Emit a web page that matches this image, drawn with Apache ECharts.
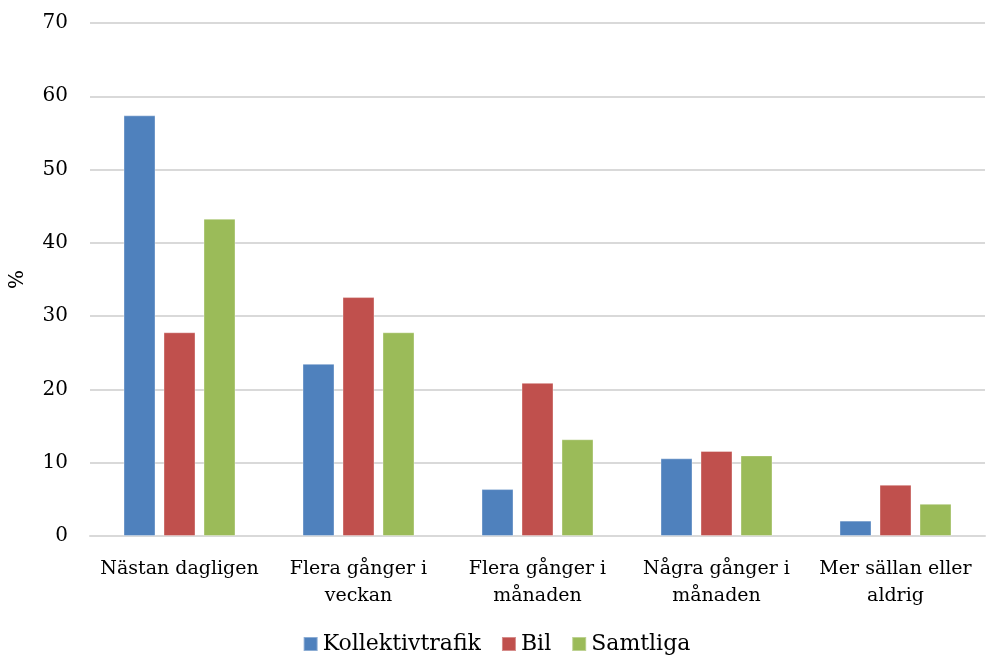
<!DOCTYPE html>
<html>
<head>
<meta charset="utf-8">
<script src="https://cdn.jsdelivr.net/npm/echarts@6/dist/echarts.min.js"></script>
<style>
  html, body { margin: 0; padding: 0; background: #fff; }
  #chart { width: 993px; height: 657px; }
</style>
</head>
<body>
<div id="chart"></div>
<script>
  var categories = ['Nästan dagligen', 'Flera gånger i\nveckan', 'Flera gånger i\nmånaden', 'Några gånger i\nmånaden', 'Mer sällan eller\naldrig'];
  var kollektivtrafik = [57.4, 23.5, 6.4, 10.6, 2.1];
  var bil = [27.8, 32.6, 20.9, 11.6, 7.0];
  var samtliga = [43.3, 27.8, 13.2, 11.0, 4.4];
  var seriesNames = ['Kollektivtrafik', 'Bil', 'Samtliga'];
  var colors = ['#4f81bd', '#c0504d', '#9bbb59'];

  var font = 'DejaVu Serif';
  var chart = echarts.init(document.getElementById('chart'));

  function bar(name, data, color) {
    return {
      name: name,
      type: 'bar',
      data: data,
      barWidth: 32,
      barGap: '25%',
      itemStyle: { color: color, borderColor: 'rgba(255,255,255,0.35)', borderWidth: 1 }
    };
  }

  chart.setOption({
    animation: false,
    color: colors,
    grid: { left: 89, right: 8, top: 23, bottom: 121 },
    legend: {
      bottom: -3,
      left: 'center',
      itemWidth: 14,
      itemHeight: 14,
      itemGap: 20,
      icon: 'rect',
      textStyle: { fontFamily: font, fontSize: 22, color: '#000' },
      data: seriesNames
    },
    xAxis: {
      type: 'category',
      data: categories,
      axisLine: { show: true, lineStyle: { color: '#d9d9d9', width: 2 } },
      axisTick: { show: false },
      axisLabel: { fontFamily: font, fontSize: 19, color: '#000', margin: 20, lineHeight: 27, interval: 0 }
    },
    yAxis: {
      type: 'value',
      min: 0,
      max: 70,
      interval: 10,
      name: '%',
      nameLocation: 'middle',
      nameGap: 62,
      nameRotate: 90,
      nameTextStyle: { fontFamily: font, fontSize: 20, color: '#000' },
      axisLine: { show: false },
      axisTick: { show: false },
      splitLine: { lineStyle: { color: '#d9d9d9', width: 2 } },
      axisLabel: { fontFamily: font, fontSize: 20, color: '#000', margin: 22 }
    },
    series: [
      bar(seriesNames[0], kollektivtrafik, colors[0]),
      bar(seriesNames[1], bil, colors[1]),
      bar(seriesNames[2], samtliga, colors[2])
    ]
  });
</script>
</body>
</html>
